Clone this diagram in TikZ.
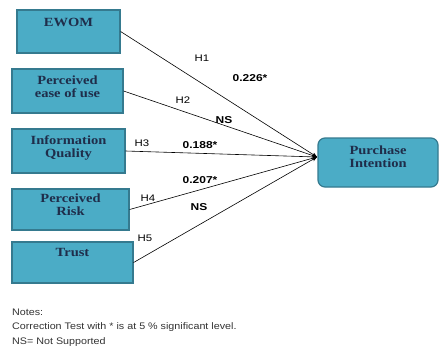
\documentclass[tikz,border=0pt]{standalone}
\usepackage{fontspec}
\setmainfont{Liberation Serif}
\newfontfamily\boxfont[FakeStretch=1.16]{Liberation Serif}
\newfontfamily\lblfont[FakeStretch=1.2]{Liberation Sans}
\newfontfamily\notefont[FakeStretch=1.13]{Liberation Sans}
\usetikzlibrary{arrows.meta}
\definecolor{boxfill}{HTML}{4BACC6}
\definecolor{boxline}{HTML}{357A8F}
\definecolor{boxtext}{HTML}{1F2D4A}
\definecolor{notegray}{HTML}{333333}
\begin{document}
\begin{tikzpicture}[x=1pt,y=-1pt,
  cbox/.style={draw=boxline,line width=1.2pt,fill=boxfill,text=boxtext,
    font=\boxfont\fontsize{12.5}{13}\selectfont\bfseries,align=center,
    inner sep=0pt,anchor=center},
  hyp/.style={font=\lblfont\fontsize{9.5}{11}\selectfont,text=black,inner sep=0pt},
  coef/.style={font=\lblfont\fontsize{10}{11}\selectfont\bfseries,text=black,inner sep=0pt},
  note/.style={font=\notefont\fontsize{9.5}{11}\selectfont,text=notegray,inner sep=0pt,anchor=west},
  link/.style={draw=black,line width=0.6pt,-{Stealth[length=5pt,width=4pt]}}]
\useasboundingbox (0,0) rectangle (439,349);
\fill[white] (0,0) rectangle (439,349);
\node[cbox,minimum width=103pt,minimum height=43pt] (ewom) at (68.5,31.5) {EWOM\\[6pt]\mbox{}};
\node[cbox,minimum width=111pt,minimum height=44pt] (peou) at (67.5,91) {Perceived\\ease of use\\[-4pt]\mbox{}};
\node[cbox,minimum width=113pt,minimum height=44pt] (iq) at (68.5,151) {Information\\Quality\\[-4pt]\mbox{}};
\node[cbox,minimum width=117pt,minimum height=41pt] (pr) at (70.5,209.5) {Perceived\\Risk\\[-4pt]\mbox{}};
\node[cbox,minimum width=121pt,minimum height=41pt] (tr) at (72.5,262.5) {Trust\\[8pt]\mbox{}};
\node[cbox,rounded corners=7pt,minimum width=120pt,minimum height=49pt] (pi) at (378,162.5) {Purchase\\Intention\\[-2pt]\mbox{}};
\coordinate (tip) at (317,157);
\draw[link] (ewom.east) -- (tip);
\draw[link] (peou.east) -- (tip);
\draw[link] (iq.east) -- (tip);
\draw[link] (pr.east) -- (tip);
\draw[link] (tr.east) -- (tip);
\node[hyp] (h1) at (202,58) {H1};
\node[coef] (c1) at (250,78) {0.226*};
\node[hyp] (h2) at (183,100) {H2};
\node[coef] (c2) at (224,120) {NS};
\node[hyp] (h3) at (142,143) {H3};
\node[coef] (c3) at (200,145) {0.188*};
\node[coef] (c4) at (200,180) {0.207*};
\node[hyp] (h4) at (148,198) {H4};
\node[coef] (c5) at (199,207) {NS};
\node[hyp] (h5) at (145,238) {H5};
\node[note] (n1) at (12,312) {Notes:};
\node[note] (n2) at (12,327) {Correction Test with * is at 5 \% significant level.};
\node[note] (n3) at (12,342) {NS= Not Supported};
\end{tikzpicture}
\end{document}
